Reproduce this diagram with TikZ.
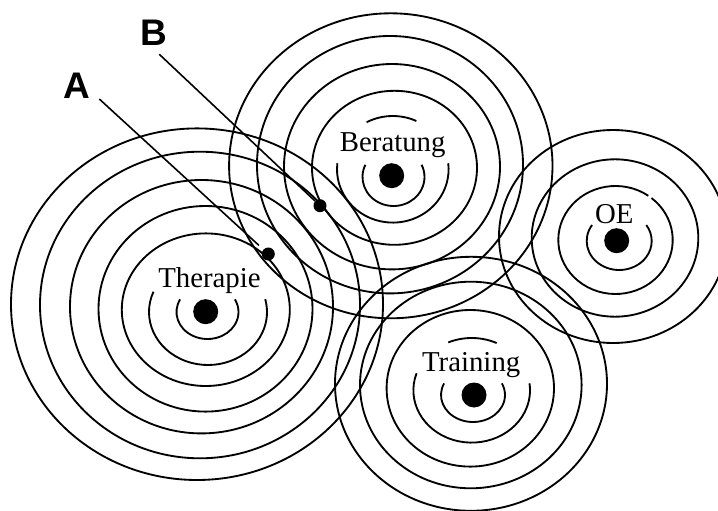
\documentclass[tikz,border=0pt]{standalone}
\usepackage{fontspec}
\setmainfont{Liberation Serif}
\newfontfamily\labfont{Liberation Sans}
\newcommand{\ringfull}[4]{\draw[ring] (#1,-#2) ellipse[x radius=#3pt, y radius=#4pt];}
\newcommand{\ringarc}[6]{\draw[ring] (#1,-#2) ++(#5:#3pt and #4pt) arc[start angle=#5, end angle=#6, x radius=#3pt, y radius=#4pt];}
\begin{document}
\begin{tikzpicture}[x=1pt,y=1pt,
  ring/.style={line width=1.85pt, black},
  bigdot/.style={circle, fill=black, inner sep=0pt, minimum size=25pt},
  smalldot/.style={circle, fill=black, inner sep=0pt, minimum size=13pt},
  pointer/.style={line width=1.6pt, black},
  fieldlabel/.style={anchor=base, inner sep=0pt, font=\fontsize{28.8}{30}\selectfont},
  letterlabel/.style={anchor=base, inner sep=0pt, font=\labfont\bfseries\fontsize{37}{40}\selectfont}]
\fill[white] (0,0) rectangle (718,-511);
\useasboundingbox (0,0) rectangle (718,-511);
\clip (0,0) rectangle (718,-511);
% Therapie rings
\ringfull{197}{304.2}{186}{175.8}
\ringfull{200}{305}{160}{153.3}
\ringfull{201.5}{306.7}{131.5}{126.7}
\ringfull{205.5}{308.8}{107}{102.8}
\ringfull{205.8}{309.7}{84}{76.3}
\ringarc{208}{312}{59}{53}{157.5}{374}
\ringarc{207.5}{312}{31}{27}{152}{388}
% Beratung rings
\ringfull{390.8}{165.8}{161.7}{152.5}
\ringfull{390}{164.7}{133}{128.7}
\ringfull{392}{166.7}{108}{102.7}
\ringfull{394.5}{167.8}{82.5}{77}
\ringarc{392.8}{169.3}{55.8}{53.3}{65}{118}
\ringarc{392.8}{169.3}{55.8}{53.3}{173.5}{366.5}
\ringarc{393.5}{177}{31}{29}{155}{385}
% Training rings
\ringfull{471}{383.8}{136}{127}
\ringfull{470.8}{385}{110.8}{103.3}
\ringfull{470.3}{388.3}{83.7}{78.3}
\ringarc{471.7}{390.3}{58.3}{52.3}{64.6}{113.7}
\ringarc{471.7}{390.3}{58.3}{52.3}{161}{367.7}
\ringarc{473}{395}{32}{27}{154.4}{385.6}
% OE rings
\ringfull{613}{236.5}{114}{106.5}
\ringfull{615}{238}{83.3}{78.7}
\ringarc{615.5}{240}{57.2}{54}{55}{411}
\ringarc{619.2}{241}{32.5}{29}{146.5}{393.5}
% centre dots
\node[bigdot] (dT) at (205.7,-311.7) {};
\node[bigdot] (dB) at (391.7,-175.7) {};
\node[bigdot] (dTr) at (474,-395) {};
\node[bigdot] (dOE) at (616.7,-240.7) {};
% field labels
\node[fieldlabel] (tT) at (209.5,-287.7) {Therapie};
\node[fieldlabel] (tB) at (392.7,-151.7) {Beratung};
\node[fieldlabel] (tTr) at (471.2,-371.7) {Training};
\node[fieldlabel] (tOE) at (614.2,-223) {OE};
% points A and B
\node[smalldot] (pA) at (268.3,-254) {};
\node[smalldot] (pB) at (320,-205.7) {};
\node[letterlabel] (lA) at (76.7,-98.3) {A};
\node[letterlabel] (lB) at (153.8,-45.7) {B};
\coordinate (Aend) at (99.3,-99);
\coordinate (Bend) at (159.3,-54.3);
\draw[pointer, shorten >=6pt] (Aend) -- (pA);
\draw[pointer] (Bend) -- (pB);
\end{tikzpicture}
\end{document}
